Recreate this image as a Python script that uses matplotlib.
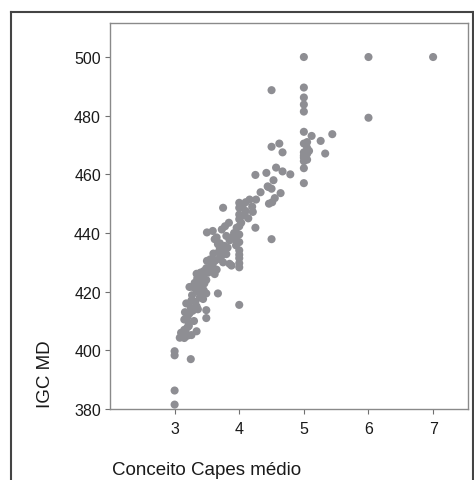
import matplotlib
matplotlib.use("Agg")
import matplotlib.pyplot as plt
from matplotlib.lines import Line2D

plt.rcParams['font.family'] = ['Liberation Sans', 'DejaVu Sans']

# Conceito Capes médio (x) and IGC MD (y)
capes = [
    3.00, 3.00, 3.00, 3.00, 3.25,
    3.08, 3.12, 3.15, 3.20, 3.26, 3.15, 3.20, 3.17, 3.34, 3.22, 3.10,
    3.16, 3.23, 3.18, 3.28, 3.34, 3.26, 3.39, 3.44, 3.49, 3.49, 3.49, 3.41, 3.34, 3.28,
    3.23, 3.30, 3.38, 3.45, 3.15, 3.20, 3.30, 3.22,
    3.67, 4.00,
    3.34, 3.35, 3.40, 3.44, 3.49, 3.52, 3.54, 3.59, 3.49, 3.59, 3.62, 3.65, 3.50, 3.55,
    3.63, 3.69, 3.72, 3.75, 3.80, 3.70, 3.67, 3.62, 3.77, 3.85, 3.88, 3.60, 3.45, 3.40,
    4.00, 4.00, 4.00, 4.00, 4.00, 3.95, 4.00, 3.90, 4.00, 3.96, 4.00, 4.00, 4.00, 4.00,
    4.00, 4.05, 4.08, 4.10, 4.14, 3.95,
    3.50, 3.59, 3.73, 3.78, 3.84, 3.85, 3.80, 3.65, 3.75, 3.70,
    4.25, 4.50, 4.16, 4.26, 4.21, 4.33, 4.44, 4.50, 4.64, 4.46, 4.51, 4.55, 4.25, 4.42,
    4.57, 4.67, 4.79, 4.53, 4.20, 4.10, 4.45,
    5.00, 5.00, 5.00, 5.00, 5.00, 5.05, 5.00, 5.05, 5.00, 5.05, 5.00, 5.12, 5.44, 5.26,
    5.33, 4.50, 4.62, 4.67, 5.00, 5.00, 5.00, 5.00, 4.50, 5.00, 6.00, 7.00, 6.00, 5.05,
    5.08,
    3.25, 3.32, 3.37, 3.42, 3.27, 3.36, 3.31, 3.46, 3.57, 3.68, 3.74, 3.82, 3.92, 4.03,
]
igc = [
    381.5, 386.3, 398.3, 399.7, 397.0,
    404.3, 405.0, 404.2, 405.0, 405.2, 407.0, 407.9, 406.2, 406.5, 408.3, 406.0,
    413.0, 412.6, 416.0, 413.5, 415.0, 417.0, 418.0, 417.5, 413.7, 411.0, 419.4, 419.0, 420.5, 421.6,
    421.6, 422.0, 421.0, 420.5, 410.5, 411.5, 410.0, 409.3,
    419.4, 415.5,
    426.1, 424.5, 423.5, 425.0, 424.0, 426.5, 427.8, 428.3, 428.0, 429.5, 426.0, 427.5, 430.5, 431.0,
    430.6, 431.2, 432.0, 430.0, 432.8, 434.9, 436.2, 437.9, 435.6, 429.5, 428.9, 433.0, 427.0, 426.5,
    428.3, 429.7, 431.4, 432.6, 434.1, 435.8, 436.9, 438.6, 439.5, 441.8, 442.3, 444.7, 446.3, 448.6,
    450.3, 449.0, 446.0, 447.5, 445.0, 437.5,
    440.2, 440.7, 441.2, 442.3, 443.5, 437.5, 439.0, 438.5, 448.6, 436.5,
    441.8, 437.9, 451.4, 451.4, 447.2, 453.9, 455.9, 455.1, 453.6, 450.0, 450.5, 451.9, 459.8, 460.5,
    462.3, 461.0, 460.0, 458.0, 449.0, 450.5, 455.7,
    457.0, 462.1, 464.5, 465.7, 466.4, 467.0, 467.5, 469.0, 470.5, 471.0, 474.5, 473.1, 473.7, 471.4,
    467.1, 469.4, 470.5, 467.5, 481.4, 483.8, 486.2, 489.6, 488.7, 500.0, 500.0, 500.0, 479.3, 465.0,
    468.0,
    414.5, 416.5, 419.8, 422.5, 418.8, 414.0, 423.0, 422.8, 429.0, 433.5, 434.0, 435.0, 440.0, 443.5,
]
x_ticks = [3, 4, 5, 6, 7]
y_ticks = [380, 400, 420, 440, 460, 480, 500]
x_label = "Conceito Capes médio"
y_label = "IGC MD"

fig = plt.figure(figsize=(4.74, 4.81), dpi=100)
ax = fig.add_axes([110/474, 1 - 410/481, 358/474, 386/481])

ax.scatter(capes, igc, s=34, color='#8e8e93', edgecolors='none', zorder=3)

ax.set_xlim(2.0, 7.54)
ax.set_ylim(380, 511.6)
ax.set_xticks(x_ticks)
ax.set_yticks(y_ticks)
ax.tick_params(axis='both', direction='out', length=3.5, width=0.8,
               color='#707070', labelsize=11.5, labelcolor='#1a1a1a', pad=3)
ax.tick_params(axis='x', pad=5)
for sp in ax.spines.values():
    sp.set_color('#8a8a8a')
    sp.set_linewidth(1.0)

fig.text(112/474, 1 - 471/481, x_label, fontsize=13.5, color='#1a1a1a',
         ha='left', va='center')
fig.text(46/474, 1 - 374/481, y_label, fontsize=13.5, color='#1a1a1a',
         ha='center', va='center', rotation=90)

# outer frame (left, top, right)
fx0, fx1, fy1 = 11/474, 473/474, 1 - 13/481
frame_kw = dict(color='#444444', linewidth=1.5, transform=fig.transFigure)
fig.add_artist(Line2D([fx0, fx0], [0, fy1], **frame_kw))
fig.add_artist(Line2D([fx0, fx1], [fy1, fy1], **frame_kw))
fig.add_artist(Line2D([fx1, fx1], [0, fy1], **frame_kw))

fig.savefig("out.png", dpi=100)
